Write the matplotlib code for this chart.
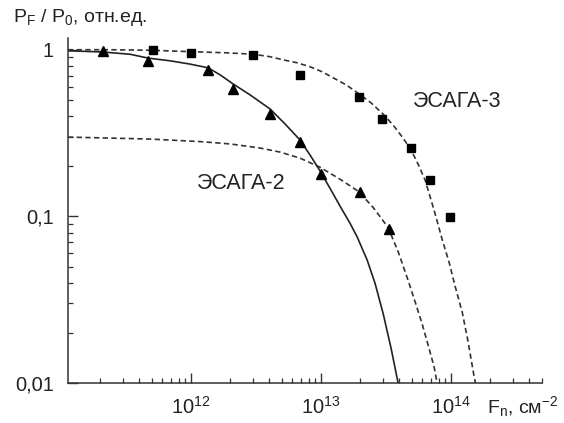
import matplotlib
matplotlib.use('Agg')
import matplotlib.pyplot as plt
from matplotlib.ticker import LogLocator, FixedLocator, FixedFormatter, NullFormatter

plt.rcParams['font.family'] = ['Liberation Sans', 'DejaVu Sans']
plt.rcParams['mathtext.fontset'] = 'custom'
plt.rcParams['mathtext.rm'] = 'Liberation Sans'
plt.rcParams['mathtext.it'] = 'Liberation Sans'

# measured points, ESAGA-2 (triangles) and ESAGA-3 (squares)
tri_F = [2.1e11, 4.7e11, 1.35e12, 2.1e12, 4.05e12, 6.9e12, 1.0e13, 2.0e13, 3.35e13]
tri_P = [0.977, 0.855, 0.76, 0.58, 0.41, 0.278, 0.18, 0.14, 0.084]

sq_F = [5.07e11, 1.0e12, 3.0e12, 6.9e12, 1.97e13, 2.96e13, 4.9e13, 6.9e13, 9.8e13]
sq_P = [0.99, 0.955, 0.93, 0.706, 0.519, 0.384, 0.257, 0.165, 0.099]

# fitted curves
fit2_F = [1.13e11, 2.10e11, 3.40e11, 4.67e11, 6.89e11, 9.82e11, 1.35e12, 1.67e12,
          2.10e12, 2.84e12, 4.05e12, 5.29e12, 6.89e12, 8.23e12, 9.83e12, 1.17e13,
          1.40e13, 1.67e13, 1.89e13, 2.26e13, 2.60e13, 3.00e13, 3.45e13, 3.91e13]
fit2_P = [0.986, 0.969, 0.939, 0.891, 0.858, 0.820, 0.779, 0.707,
          0.624, 0.536, 0.441, 0.358, 0.287, 0.233, 0.187, 0.1475,
          0.115, 0.0908, 0.0755, 0.0547, 0.0396, 0.0261, 0.0162, 0.010]

fitA_F = [1.13e11, 2.38e11, 4.84e11, 1.17e12, 2.0e12, 3.40e12, 4.84e12, 6.89e12,
          9.83e12, 1.40e13, 1.93e13, 2.51e13, 3.27e13, 3.91e13, 4.59e13, 5.28e13,
          5.98e13, 6.65e13, 7.40e13, 7.80e13]
fitA_P = [0.299, 0.295, 0.291, 0.281, 0.272, 0.257, 0.243, 0.2235,
          0.197, 0.167, 0.1415, 0.1133, 0.0859, 0.0615, 0.0429, 0.0308,
          0.0227, 0.0169, 0.0125, 0.010]

fitB_F = [1.13e11, 2.38e11, 4.84e11, 1.02e12, 1.83e12, 3.0e12, 4.05e12, 5.1e12,
          6.53e12, 8.23e12, 1.02e13, 1.24e13, 1.56e13, 1.96e13, 2.42e13, 3.0e13,
          3.58e13, 4.27e13, 4.92e13, 5.57e13, 6.31e13, 7.40e13, 8.53e13, 9.66e13,
          1.07e14, 1.22e14, 1.35e14, 1.50e14, 1.54e14]
fitB_P = [1.0, 1.0, 0.993, 0.973, 0.959, 0.94, 0.908, 0.87,
          0.835, 0.79, 0.737, 0.678, 0.615, 0.543, 0.480, 0.411,
          0.353, 0.295, 0.25, 0.206, 0.165, 0.1087, 0.0727, 0.0528,
          0.0384, 0.0264, 0.0177, 0.011, 0.010]

y_ticks = [0.01, 0.1, 1]
y_labels = ['0,01', '0,1', '1']

fig = plt.figure(figsize=(5.64, 4.23), dpi=100)
ax = fig.add_axes([68/564, 40/423, 474/564, 345/423])

dash = (0, (3.2, 2.0))
ax.plot(fitB_F, fitB_P, color='#333333', lw=1.2, ls=dash)
ax.plot(fitA_F, fitA_P, color='#333333', lw=1.2, ls=dash)
ax.plot(fit2_F, fit2_P, color='#222222', lw=1.2)
ax.plot(sq_F, sq_P, 's', color='black', ms=5.5, ls='none')
ax.plot(tri_F, tri_P, '^', color='black', ms=6.5, ls='none')

ax.set_xscale('log')
ax.set_yscale('log')
ax.set_xlim(1.13e11, 5.0e14)
ax.set_ylim(0.01, 1.176)

ax.xaxis.set_major_locator(FixedLocator([1e12, 1e13, 1e14]))
ax.xaxis.set_minor_locator(LogLocator(base=10, subs=range(2, 10), numticks=20))
ax.xaxis.set_minor_formatter(NullFormatter())
ax.yaxis.set_major_locator(FixedLocator(y_ticks))
ax.yaxis.set_major_formatter(FixedFormatter(y_labels))
ax.yaxis.set_minor_locator(LogLocator(base=10, subs=range(2, 10), numticks=20))
ax.yaxis.set_minor_formatter(NullFormatter())

for s in ['top', 'right']:
    ax.spines[s].set_visible(False)
for s in ['left', 'bottom']:
    ax.spines[s].set_linewidth(1.1)
    ax.spines[s].set_color('#333333')

ax.tick_params(which='major', direction='in', length=7, width=1.0, color='#333333',
               labelsize=14.5, labelcolor='#222222')
ax.tick_params(which='minor', direction='in', length=3.5, width=0.9, color='#333333')
ax.tick_params(axis='x', which='major', pad=9)
ax.tick_params(axis='y', which='major', pad=10)

ax.text(1.106e12, 0.1455, 'ЭСАГА-2', fontsize=15.5, color='#222222', va='baseline')
ax.text(5.07e13, 0.452, 'ЭСАГА-3', fontsize=15.5, color='#222222', va='baseline')

fig.text(13/564, 1 - 22/423, r'P$_\mathregular{F}$ / P$_\mathregular{0}$, отн.ед.',
         fontsize=14, color='#222222', va='baseline', ha='left')
fig.text(487/564, 1 - 413/423, r'F$_\mathregular{n}$, см$^\mathregular{-2}$',
         fontsize=14, color='#222222', va='baseline', ha='left')

fig.savefig('out.png', dpi=100)
